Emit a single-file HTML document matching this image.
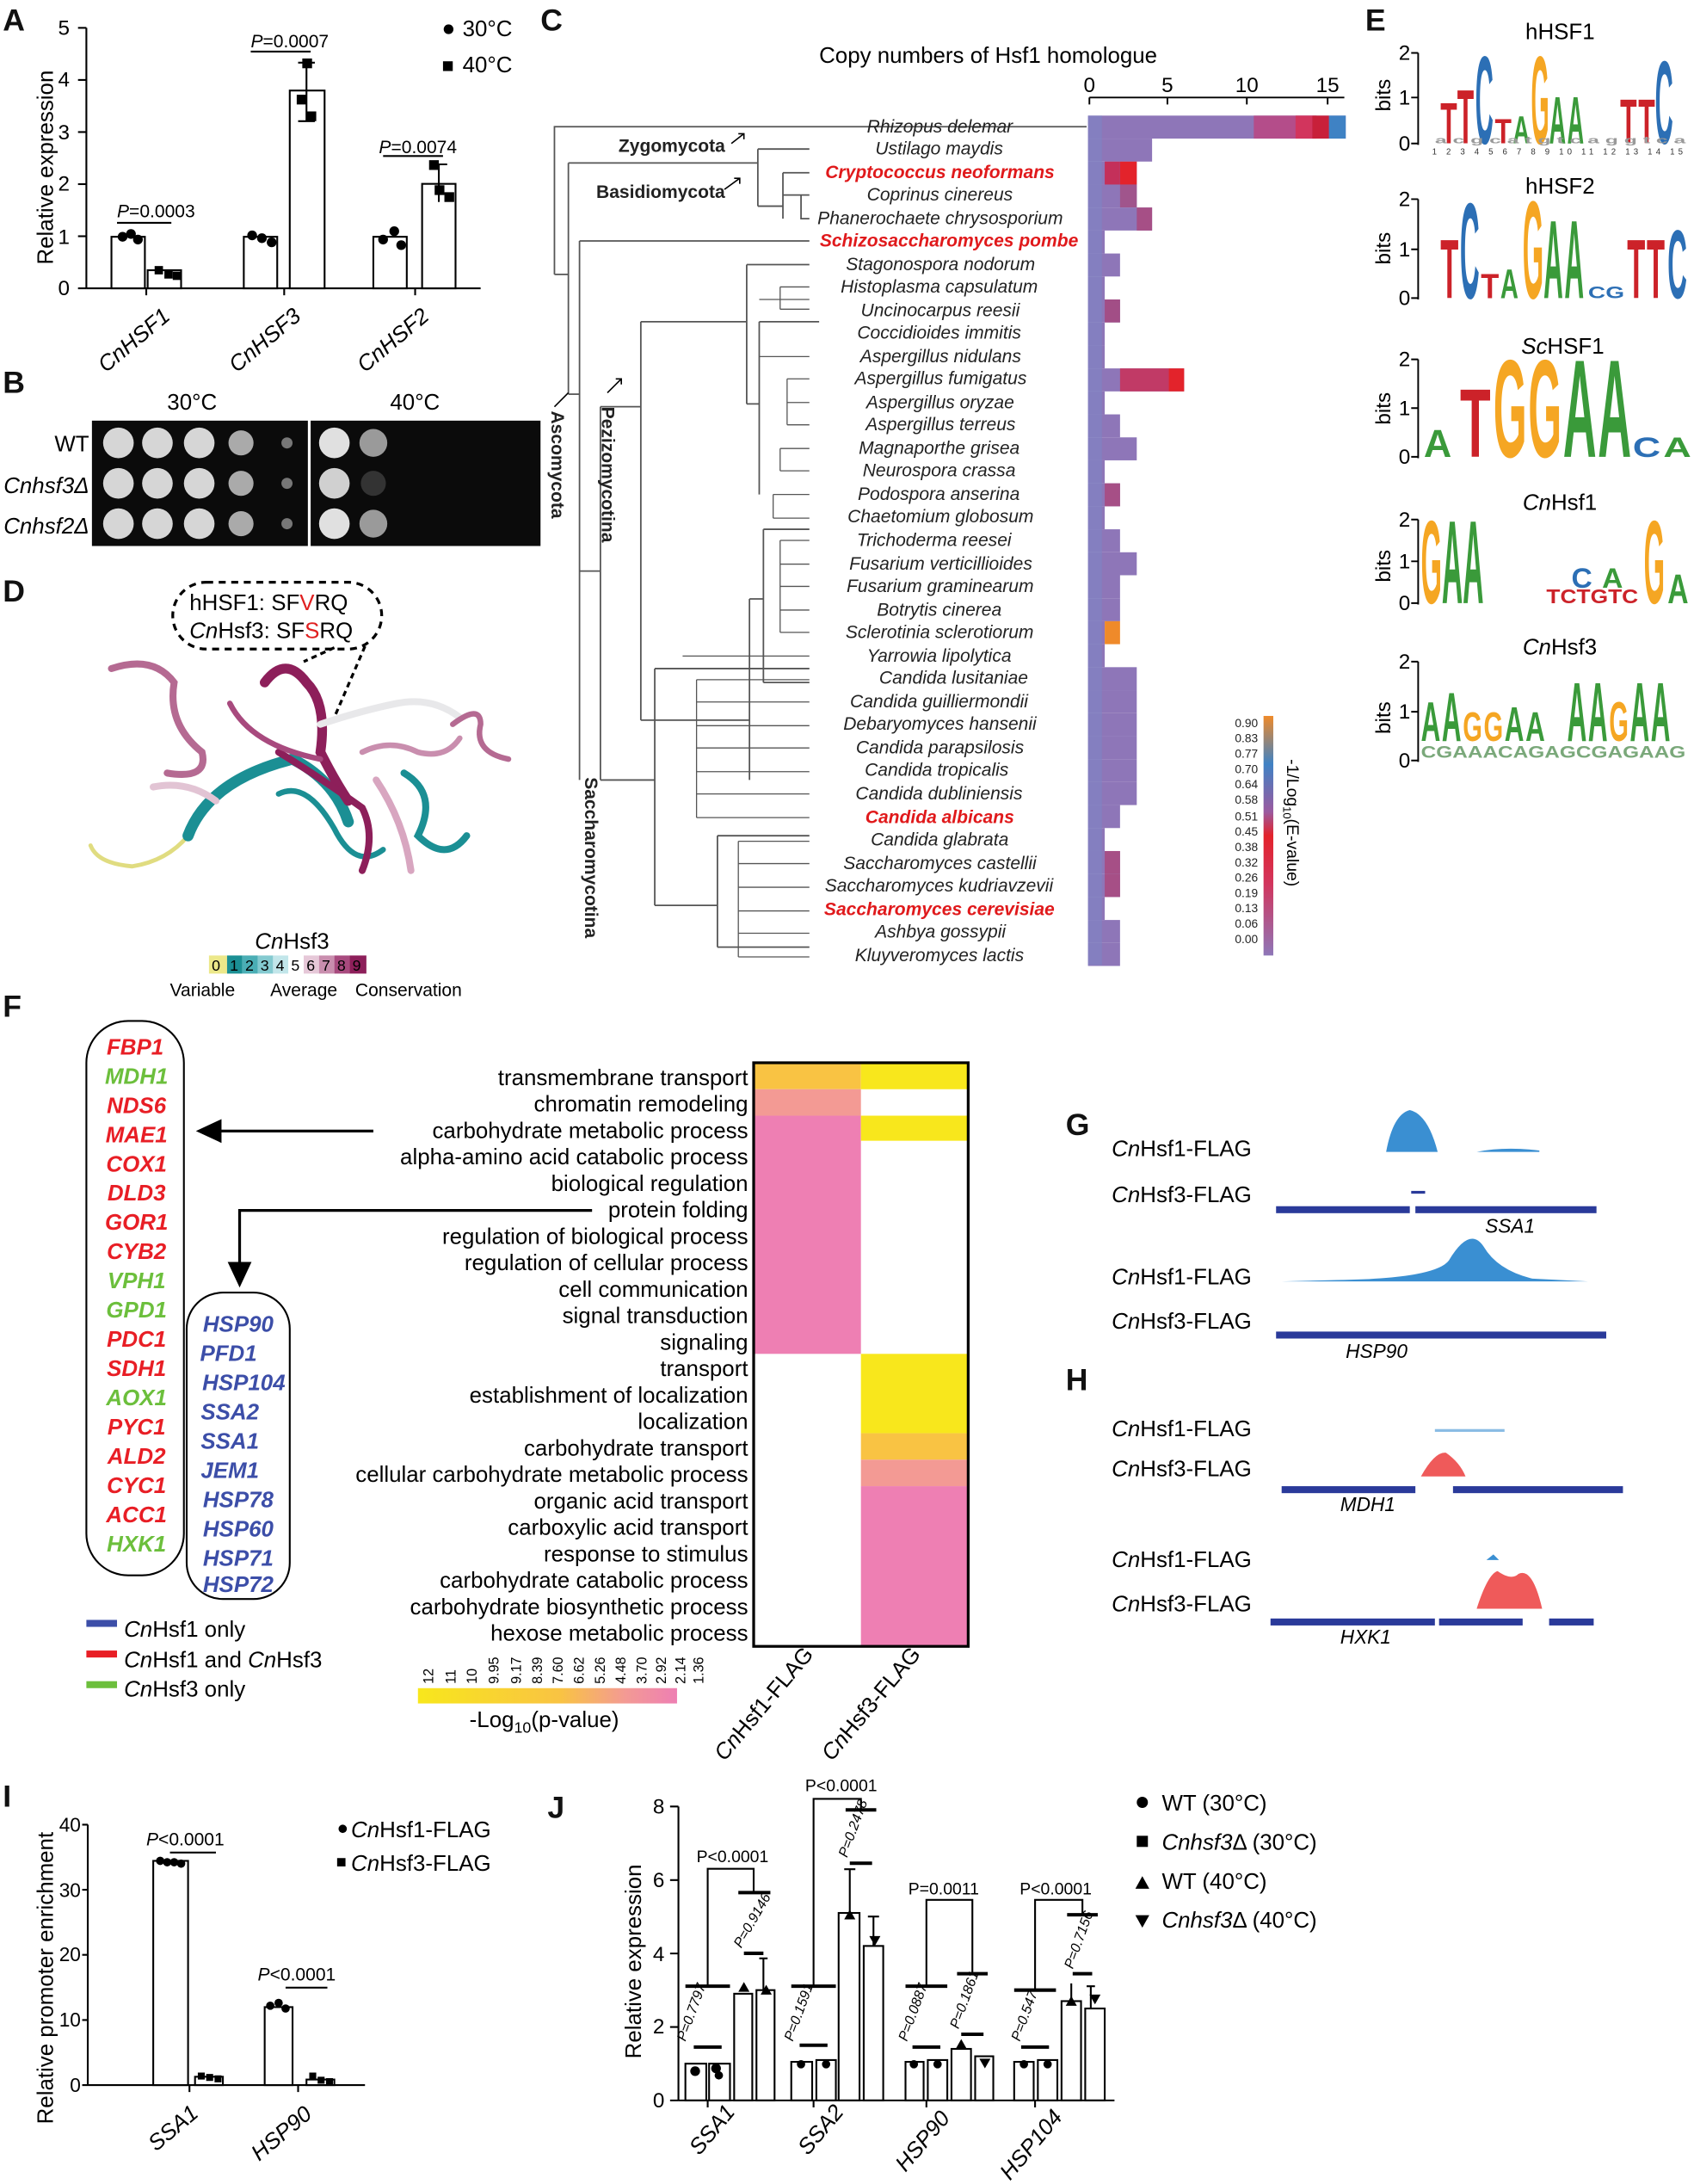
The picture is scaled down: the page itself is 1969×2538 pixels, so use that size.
<!DOCTYPE html>
<html><head><meta charset="utf-8"><style>
html,body{margin:0;padding:0;background:#fff}
svg{display:block}
text{font-family:"Liberation Sans",sans-serif}
</style></head><body>
<svg width="1969" height="2538" viewBox="0 0 1216 1568" preserveAspectRatio="none" xmlns="http://www.w3.org/2000/svg">
<rect width="1216" height="1568" fill="#fff"/>
<g font-weight="bold" font-size="22" fill="#111">
<text x="2" y="22">A</text><text x="2" y="282">B</text><text x="2" y="432">D</text>
<text x="388" y="22">C</text><text x="980" y="22">E</text><text x="2" y="730">F</text>
<text x="765" y="815">G</text><text x="765" y="998">H</text><text x="2" y="1297">I</text><text x="393" y="1305">J</text>
</g>

<!-- Panel A -->
<g stroke="#000" stroke-width="1.3" fill="none">
<line x1="62" y1="20" x2="62" y2="207"/><line x1="62" y1="207" x2="345" y2="207"/>
<line x1="56" y1="20" x2="62" y2="20"/><line x1="56" y1="57.4" x2="62" y2="57.4"/><line x1="56" y1="94.8" x2="62" y2="94.8"/><line x1="56" y1="132.2" x2="62" y2="132.2"/><line x1="56" y1="169.6" x2="62" y2="169.6"/><line x1="56" y1="207" x2="62" y2="207"/>
<rect x="80" y="170" width="24" height="37"/><rect x="106" y="194" width="24" height="13"/>
<rect x="175" y="170" width="24" height="37"/><rect x="208" y="65" width="25" height="142"/>
<rect x="268" y="170" width="24" height="37"/><rect x="303" y="132" width="24" height="75"/>
<line x1="84" y1="160" x2="123" y2="160"/>
<line x1="180" y1="37" x2="223" y2="37"/><line x1="275" y1="112" x2="318" y2="112"/>
<line x1="220" y1="45" x2="220" y2="87"/><line x1="214" y1="45" x2="226" y2="45"/><line x1="214" y1="87" x2="226" y2="87"/>
<line x1="315" y1="118" x2="315" y2="145"/><line x1="309" y1="118" x2="321" y2="118"/>
<line x1="105" y1="207" x2="105" y2="212"/><line x1="204" y1="207" x2="204" y2="212"/><line x1="298" y1="207" x2="298" y2="212"/>
</g>
<g fill="#000">
<circle cx="88" cy="170" r="3.5"/><circle cx="94" cy="168" r="3.5"/><circle cx="99" cy="172" r="3.5"/>
<rect x="111" y="191" width="6" height="6"/><rect x="118" y="194" width="6" height="6"/><rect x="124" y="195" width="6" height="6"/>
<circle cx="181" cy="169" r="3.5"/><circle cx="188" cy="171" r="3.5"/><circle cx="195" cy="174" r="3.5"/>
<rect x="217" y="42" width="7" height="7"/><rect x="213" y="68" width="7" height="7"/><rect x="220" y="80" width="7" height="7"/>
<circle cx="275" cy="172" r="3.5"/><circle cx="283" cy="166" r="3.5"/><circle cx="288" cy="176" r="3.5"/>
<rect x="308" y="115" width="7" height="7"/><rect x="312" y="133" width="7" height="7"/><rect x="319" y="138" width="7" height="7"/>
<text x="50" y="212" font-size="15" text-anchor="end">0</text><text x="50" y="175" font-size="15" text-anchor="end">1</text><text x="50" y="137" font-size="15" text-anchor="end">2</text><text x="50" y="100" font-size="15" text-anchor="end">3</text><text x="50" y="62" font-size="15" text-anchor="end">4</text><text x="50" y="25" font-size="15" text-anchor="end">5</text>
<text x="84" y="156" font-size="13"><tspan font-style="italic">P</tspan>=0.0003</text>
<text x="180" y="34" font-size="13"><tspan font-style="italic">P</tspan>=0.0007</text>
<text x="272" y="110" font-size="13"><tspan font-style="italic">P</tspan>=0.0074</text>
<text transform="translate(38,190) rotate(-90)" font-size="16">Relative expression</text>
<text transform="translate(76,268) rotate(-40)" font-size="16" font-style="italic">CnHSF1</text>
<text transform="translate(170,268) rotate(-40)" font-size="16" font-style="italic">CnHSF3</text>
<text transform="translate(262,268) rotate(-40)" font-size="16" font-style="italic">CnHSF2</text>
<circle cx="322" cy="21" r="3.5"/><text x="332" y="26" font-size="16">30°C</text>
<rect x="318" y="44" width="7" height="7"/><text x="332" y="52" font-size="16">40°C</text>
</g>

<!-- Panel B -->
<text x="120" y="294" font-size="16">30°C</text><text x="280" y="294" font-size="16">40°C</text>
<text x="64" y="324" font-size="16" text-anchor="end">WT</text>
<text x="64" y="354" font-size="16" text-anchor="end" font-style="italic">Cnhsf3Δ</text>
<text x="64" y="383" font-size="16" text-anchor="end" font-style="italic">Cnhsf2Δ</text>
<rect x="66" y="302" width="155" height="90" fill="#0b0b0b"/><rect x="223" y="302" width="165" height="90" fill="#0b0b0b"/>
<g fill="#d6d6d6">
<circle cx="85" cy="318" r="11"/><circle cx="113" cy="318" r="11"/><circle cx="143" cy="318" r="11"/><circle cx="173" cy="318" r="9" fill="#aaa"/><circle cx="206" cy="318" r="4" fill="#777"/>
<circle cx="85" cy="347" r="11"/><circle cx="113" cy="347" r="11"/><circle cx="143" cy="347" r="11"/><circle cx="173" cy="347" r="9" fill="#aaa"/><circle cx="206" cy="347" r="4" fill="#777"/>
<circle cx="85" cy="376" r="11"/><circle cx="113" cy="376" r="11"/><circle cx="143" cy="376" r="11"/><circle cx="173" cy="376" r="9" fill="#aaa"/><circle cx="206" cy="376" r="4" fill="#777"/>
<circle cx="240" cy="318" r="11" fill="#e0e0e0"/><circle cx="268" cy="318" r="10" fill="#9a9a9a"/>
<circle cx="240" cy="347" r="11" fill="#d0d0d0"/><circle cx="268" cy="347" r="9" fill="#333"/>
<circle cx="240" cy="376" r="11" fill="#e0e0e0"/><circle cx="268" cy="376" r="10" fill="#9a9a9a"/>
</g>

<!-- Panel D -->
<rect x="124" y="418" width="150" height="48" rx="24" fill="none" stroke="#000" stroke-width="2" stroke-dasharray="5,4"/>
<text x="136" y="438" font-size="16">hHSF1: SF<tspan fill="#e02020">V</tspan>RQ</text>
<text x="136" y="458" font-size="16"><tspan font-style="italic">Cn</tspan>Hsf3: SF<tspan fill="#e02020">S</tspan>RQ</text>
<path d="M240 465 L218 475 M262 464 L240 515" stroke="#000" stroke-width="2" stroke-dasharray="4,3"/>
<g fill="none" stroke-linecap="round">
<path d="M65 607 Q70 620 95 622 Q120 618 135 600" stroke="#e0dc80" stroke-width="3"/>
<path d="M135 600 Q150 560 210 545 Q240 560 250 590" stroke="#1b8f94" stroke-width="8"/>
<path d="M200 570 Q220 560 240 595 Q255 625 275 610" stroke="#1b8f94" stroke-width="4"/>
<path d="M190 490 Q205 470 220 490 Q235 505 230 540 Q240 560 250 575" stroke="#8d1f5a" stroke-width="7"/>
<path d="M200 540 Q225 555 260 580 Q270 600 260 625" stroke="#8d1f5a" stroke-width="5"/>
<path d="M230 520 Q260 510 285 505 Q310 500 330 515" stroke="#e8e8ea" stroke-width="5"/>
<path d="M325 520 Q345 505 345 520 Q340 540 365 545" stroke="#b56a92" stroke-width="4"/>
<path d="M290 555 Q315 570 300 600 Q320 620 335 600" stroke="#1b8f94" stroke-width="5"/>
<path d="M270 560 Q290 590 295 625" stroke="#d8a6c0" stroke-width="5"/>
<path d="M80 480 Q110 470 125 490 Q120 520 145 540 Q150 560 120 555" stroke="#b56a92" stroke-width="5"/>
<path d="M165 505 Q180 535 230 545" stroke="#a84a7e" stroke-width="4"/>
<path d="M110 565 Q135 560 155 575" stroke="#e2c4d4" stroke-width="5"/>
<path d="M260 540 Q280 530 300 540 Q320 545 330 530" stroke="#c98eae" stroke-width="4"/>
</g>
<text x="183" y="681" font-size="16"><tspan font-style="italic">Cn</tspan>Hsf3</text>
<g font-size="11">
<rect x="150" y="686" width="13" height="13" fill="#ece88a"/><rect x="163" y="686" width="11" height="13" fill="#1b8f94"/><rect x="174" y="686" width="11" height="13" fill="#4aaeb5"/><rect x="185" y="686" width="11" height="13" fill="#84cad0"/><rect x="196" y="686" width="11" height="13" fill="#c2e6ea"/><rect x="207" y="686" width="11" height="13" fill="#fff"/><rect x="218" y="686" width="11" height="13" fill="#e6c8d8"/><rect x="229" y="686" width="11" height="13" fill="#c98eae"/><rect x="240" y="686" width="11" height="13" fill="#a84a7e"/><rect x="251" y="686" width="12" height="13" fill="#8d1f5a"/>
<text x="152" y="697">0</text><text x="165" y="697">1</text><text x="176" y="697">2</text><text x="187" y="697">3</text><text x="198" y="697">4</text><text x="209" y="697">5</text><text x="220" y="697">6</text><text x="231" y="697">7</text><text x="242" y="697">8</text><text x="253" y="697">9</text>
<text x="122" y="715" font-size="13">Variable</text><text x="194" y="715" font-size="13">Average</text><text x="255" y="715" font-size="13">Conservation</text>
</g>

<!-- Panel C -->
<text x="588" y="45" font-size="16">Copy numbers of Hsf1 homologue</text>
<g stroke="#000" stroke-width="1.2"><line x1="782" y1="70" x2="965" y2="70"/><line x1="782" y1="70" x2="782" y2="75"/><line x1="838" y1="70" x2="838" y2="75"/><line x1="895" y1="70" x2="895" y2="75"/><line x1="953" y1="70" x2="953" y2="75"/></g>
<g font-size="15" text-anchor="middle"><text x="782" y="66">0</text><text x="838" y="66">5</text><text x="895" y="66">10</text><text x="953" y="66">15</text></g>
<g stroke="#555" stroke-width="1.1" fill="none">
<path d="M398 197 V91 H780"/>
<path d="M398 197 H408"/><path d="M408 117 V283"/><path d="M408 117 H544"/>
<path d="M544 107 V148 M544 107 H581 M544 148 H562 M562 124 V157 M562 124 H581 M562 140 H575 V157 H581 M575 140 H581"/>
<path d="M408 283 H416"/><path d="M416 173 V560"/><path d="M416 173 H581"/>
<path d="M416 410 H431 M431 292 V560"/>
<path d="M431 292 H460 M460 231 V517 M460 231 H536 M536 190 V290 M536 190 H581 M536 290 H545 M545 231 V355 M545 231 H588"/>
<path d="M460 517 H538 M538 430 V560 M538 430 H548 M548 380 V490 M548 380 H581 M548 490 H581"/>
<path d="M431 560 H470 M470 480 V650 M470 480 H581 M470 650 H515 M515 600 V680 M515 600 H581 M515 680 H581"/>
</g>
<g stroke="#555" stroke-width="0.8">
<path d="M545 215 H581 M545 256 H581 M560 206 V222 M560 206 H581 M560 222 H581 M565 272 V305 M565 272 H581 M565 305 H581 M565 289 H581"/>
<path d="M560 322 H581 M560 338 H581 M560 322 V338 M555 355 H581 M555 372 H581 M555 355 V372"/>
<path d="M560 388 H581 M560 405 H581 M560 421 H581 M560 438 H581 M560 454 H581 M560 388 V454"/>
<path d="M490 471 H581 M500 488 H581 M500 504 H581 M500 521 H581 M500 537 H581 M500 554 H581 M500 570 H581 M500 587 H581 M500 488 V587"/>
<path d="M530 604 H581 M530 620 H581 M530 637 H581 M530 654 H581 M530 670 H581 M530 687 H581 M530 604 V687"/>
</g>
<g font-size="13" font-weight="bold" fill="#222">
<text x="444" y="109">Zygomycota</text><text x="428" y="142">Basidiomycota</text>
<text transform="translate(396,295) rotate(90)">Ascomycota</text>
<text transform="translate(432,292) rotate(90)">Pezizomycotina</text>
<text transform="translate(420,558) rotate(90)">Saccharomycotina</text>
</g>
<g stroke="#000" stroke-width="1" fill="none"><path d="M525 103 L534 96 M530 96 H534 V100 M520 136 L531 128 M527 128 H531 V132 M436 282 L446 272 M442 272 H446 V276 M398 292 L408 282"/></g>
<g font-size="13" font-style="italic" text-anchor="end" fill="#222">
<text x="727" y="95">Rhizopus delemar</text><text x="720" y="111">Ustilago maydis</text>
<text x="757" y="128" fill="#e0191b" font-weight="bold">Cryptococcus neoformans</text><text x="727" y="144">Coprinus cinereus</text>
<text x="763" y="161">Phanerochaete chrysosporium</text><text x="774" y="177" fill="#e0191b" font-weight="bold">Schizosaccharomyces pombe</text>
<text x="743" y="194">Stagonospora nodorum</text><text x="745" y="210">Histoplasma capsulatum</text>
<text x="732" y="227">Uncinocarpus reesii</text><text x="733" y="243">Coccidioides immitis</text>
<text x="733" y="260">Aspergillus nidulans</text><text x="737" y="276">Aspergillus fumigatus</text>
<text x="728" y="293">Aspergillus oryzae</text><text x="729" y="309">Aspergillus terreus</text>
<text x="732" y="326">Magnaporthe grisea</text><text x="729" y="342">Neurospora crassa</text>
<text x="732" y="359">Podospora anserina</text><text x="742" y="375">Chaetomium globosum</text>
<text x="726" y="392">Trichoderma reesei</text><text x="741" y="409">Fusarium verticillioides</text>
<text x="742" y="425">Fusarium graminearum</text><text x="719" y="442">Botrytis cinerea</text>
<text x="742" y="458">Sclerotinia sclerotiorum</text><text x="726" y="475">Yarrowia lipolytica</text>
<text x="738" y="491">Candida lusitaniae</text><text x="738" y="508">Candida guilliermondii</text>
<text x="744" y="524">Debaryomyces hansenii</text><text x="735" y="541">Candida parapsilosis</text>
<text x="724" y="557">Candida tropicalis</text><text x="734" y="574">Candida dubliniensis</text>
<text x="728" y="591" fill="#e0191b" font-weight="bold">Candida albicans</text><text x="724" y="607">Candida glabrata</text>
<text x="744" y="624">Saccharomyces castellii</text><text x="756" y="640">Saccharomyces kudriavzevii</text>
<text x="757" y="657" fill="#e0191b" font-weight="bold">Saccharomyces cerevisiae</text><text x="722" y="673">Ashbya gossypii</text>
<text x="735" y="690">Kluyveromyces lactis</text>
</g>
<g>
<rect x="781" y="83" width="185" height="16.5" fill="#8e76b8"/><rect x="900" y="83" width="45" height="16.5" fill="#b44d8a"/><rect x="930" y="83" width="12" height="16.5" fill="#d2355d"/><rect x="942" y="83" width="12" height="16.5" fill="#c8203a"/><rect x="954" y="83" width="12" height="16.5" fill="#3f82c4"/>
<rect x="781" y="99.5" width="46" height="16.5" fill="#8e76b8"/>
<rect x="781" y="116" width="35" height="16.5" fill="#8e76b8"/><rect x="804" y="116" width="12" height="16.5" fill="#e3232b"/><rect x="793" y="116" width="11" height="16.5" fill="#c4305a"/>
<rect x="781" y="132.5" width="35" height="16.5" fill="#8e76b8"/><rect x="804" y="132.5" width="12" height="16.5" fill="#a0558c"/>
<rect x="781" y="149" width="46" height="16.5" fill="#8e76b8"/><rect x="816" y="149" width="11" height="16.5" fill="#a64f86"/>
<rect x="781" y="165.5" width="12" height="16.5" fill="#8e76b8"/>
<rect x="781" y="182" width="23" height="16.5" fill="#8e76b8"/>
<rect x="781" y="198.5" width="12" height="16.5" fill="#8e76b8"/>
<rect x="781" y="215" width="23" height="16.5" fill="#8e76b8"/><rect x="793" y="215" width="11" height="16.5" fill="#a24e86"/>
<rect x="781" y="231.5" width="12" height="16.5" fill="#8e76b8"/>
<rect x="781" y="248" width="12" height="16.5" fill="#8e76b8"/>
<rect x="781" y="264.5" width="69" height="16.5" fill="#8e76b8"/><rect x="804" y="264.5" width="35" height="16.5" fill="#c13a66"/><rect x="839" y="264.5" width="11" height="16.5" fill="#e3232b"/>
<rect x="781" y="281" width="12" height="16.5" fill="#8e76b8"/>
<rect x="781" y="297.5" width="23" height="16.5" fill="#8e76b8"/>
<rect x="781" y="314" width="35" height="16.5" fill="#8e76b8"/>
<rect x="781" y="330.5" width="12" height="16.5" fill="#8e76b8"/>
<rect x="781" y="347" width="23" height="16.5" fill="#8e76b8"/><rect x="793" y="347" width="11" height="16.5" fill="#a64f86"/>
<rect x="781" y="363.5" width="12" height="16.5" fill="#8e76b8"/>
<rect x="781" y="380" width="23" height="16.5" fill="#8e76b8"/>
<rect x="781" y="396.5" width="35" height="16.5" fill="#8e76b8"/>
<rect x="781" y="413" width="23" height="16.5" fill="#8e76b8"/>
<rect x="781" y="429.5" width="23" height="16.5" fill="#8e76b8"/>
<rect x="781" y="446" width="12" height="16.5" fill="#8e76b8"/><rect x="793" y="446" width="11" height="16.5" fill="#ef8a2a"/>
<rect x="781" y="462.5" width="12" height="16.5" fill="#8e76b8"/>
<rect x="781" y="479" width="35" height="16.5" fill="#8e76b8"/>
<rect x="781" y="495.5" width="35" height="16.5" fill="#8e76b8"/>
<rect x="781" y="512" width="35" height="16.5" fill="#8e76b8"/>
<rect x="781" y="528.5" width="35" height="16.5" fill="#8e76b8"/>
<rect x="781" y="545" width="35" height="16.5" fill="#8e76b8"/>
<rect x="781" y="561.5" width="35" height="16.5" fill="#8e76b8"/>
<rect x="781" y="578" width="23" height="16.5" fill="#8e76b8"/>
<rect x="781" y="594.5" width="12" height="16.5" fill="#8e76b8"/>
<rect x="781" y="611" width="23" height="16.5" fill="#8e76b8"/><rect x="793" y="611" width="11" height="16.5" fill="#a64f86"/>
<rect x="781" y="627.5" width="23" height="16.5" fill="#8e76b8"/><rect x="793" y="627.5" width="11" height="16.5" fill="#a64f86"/>
<rect x="781" y="644" width="12" height="16.5" fill="#8e76b8"/>
<rect x="781" y="660.5" width="23" height="16.5" fill="#8e76b8"/>
<rect x="781" y="677" width="23" height="16.5" fill="#8e76b8"/>
<rect x="781" y="83" width="10" height="610" fill="#7d86c4" opacity="0.6"/>
</g>
<defs><linearGradient id="cb" x1="0" y1="1" x2="0" y2="0">
<stop offset="0" stop-color="#8e76b8"/><stop offset="0.3" stop-color="#d2355d"/><stop offset="0.5" stop-color="#e3232b"/><stop offset="0.6" stop-color="#9a5aa0"/><stop offset="0.8" stop-color="#3f82c4"/><stop offset="1" stop-color="#ef8a2a"/></linearGradient></defs>
<rect x="907" y="514" width="7" height="172" fill="url(#cb)"/>
<g font-size="8.5" text-anchor="end" fill="#222">
<text x="903" y="522">0.90</text><text x="903" y="533">0.83</text><text x="903" y="544">0.77</text><text x="903" y="555">0.70</text><text x="903" y="566">0.64</text><text x="903" y="577">0.58</text><text x="903" y="589">0.51</text><text x="903" y="600">0.45</text><text x="903" y="611">0.38</text><text x="903" y="622">0.32</text><text x="903" y="633">0.26</text><text x="903" y="644">0.19</text><text x="903" y="655">0.13</text><text x="903" y="666">0.06</text><text x="903" y="677">0.00</text>
</g>
<text transform="translate(924,545) rotate(90)" font-size="12">-1/Log<tspan font-size="8" dy="3">10</tspan><tspan dy="-3">(E-value)</tspan></text>

<!-- Panel E -->
<g font-size="12" fill="#000">
<text x="1095" y="28" font-size="16">hHSF1</text><text x="1095" y="139" font-size="16">hHSF2</text>
<text x="1092" y="254" font-size="16"><tspan font-style="italic">Sc</tspan>HSF1</text>
<text x="1093" y="366" font-size="16"><tspan font-style="italic">Cn</tspan>Hsf1</text>
<text x="1093" y="470" font-size="16"><tspan font-style="italic">Cn</tspan>Hsf3</text>
</g>
<g stroke="#000" stroke-width="1.2">
<path d="M1018 38 V104 M1013 38 H1018 M1013 70 H1018 M1013 103 H1018"/>
<path d="M1018 143 V215 M1013 143 H1018 M1013 179 H1018 M1013 214 H1018"/>
<path d="M1018 258 V329 M1013 258 H1018 M1013 293 H1018 M1013 328 H1018"/>
<path d="M1018 373 V434 M1013 373 H1018 M1013 403 H1018 M1013 433 H1018"/>
<path d="M1018 475 V547 M1013 475 H1018 M1013 511 H1018 M1013 546 H1018"/>
</g>
<g font-size="15">
<text x="1004" y="43">2</text><text x="1004" y="75">1</text><text x="1004" y="108">0</text>
<text x="1004" y="148">2</text><text x="1004" y="184">1</text><text x="1004" y="219">0</text>
<text x="1004" y="263">2</text><text x="1004" y="298">1</text><text x="1004" y="333">0</text>
<text x="1004" y="378">2</text><text x="1004" y="408">1</text><text x="1004" y="438">0</text>
<text x="1004" y="480">2</text><text x="1004" y="516">1</text><text x="1004" y="551">0</text>
<text transform="translate(998,80) rotate(-90)">bits</text><text transform="translate(998,190) rotate(-90)">bits</text>
<text transform="translate(998,305) rotate(-90)">bits</text><text transform="translate(998,418) rotate(-90)">bits</text>
<text transform="translate(998,527) rotate(-90)">bits</text>
</g>
<g font-weight="bold">
<text x="1034" y="103" font-size="42" textLength="12" lengthAdjust="spacingAndGlyphs" fill="#cc2229">T</text>
<text x="1046" y="103" font-size="55" textLength="12" lengthAdjust="spacingAndGlyphs" fill="#cc2229">T</text>
<text x="1059" y="103" font-size="90" textLength="13" lengthAdjust="spacingAndGlyphs" fill="#2c6fb5">C</text>
<text x="1073" y="103" font-size="25" textLength="12" lengthAdjust="spacingAndGlyphs" fill="#cc2229">T</text>
<text x="1086" y="103" font-size="28" textLength="12" lengthAdjust="spacingAndGlyphs" fill="#3a9a3a">A</text>
<text x="1099" y="103" font-size="90" textLength="13" lengthAdjust="spacingAndGlyphs" fill="#f5a623">G</text>
<text x="1112" y="103" font-size="48" textLength="12" lengthAdjust="spacingAndGlyphs" fill="#3a9a3a">A</text>
<text x="1125" y="103" font-size="48" textLength="12" lengthAdjust="spacingAndGlyphs" fill="#3a9a3a">A</text>
<text x="1163" y="103" font-size="45" textLength="12" lengthAdjust="spacingAndGlyphs" fill="#cc2229">T</text>
<text x="1176" y="103" font-size="45" textLength="12" lengthAdjust="spacingAndGlyphs" fill="#cc2229">T</text>
<text x="1188" y="103" font-size="85" textLength="13" lengthAdjust="spacingAndGlyphs" fill="#2c6fb5">C</text>
<text x="1030" y="103" font-size="7" textLength="180" lengthAdjust="spacingAndGlyphs" fill="#999">a c g c a t g t c a g g t c a</text>
<text x="1034" y="214" font-size="60" textLength="13" lengthAdjust="spacingAndGlyphs" fill="#cc2229">T</text>
<text x="1048" y="214" font-size="98" textLength="14" lengthAdjust="spacingAndGlyphs" fill="#2c6fb5">C</text>
<text x="1063" y="214" font-size="25" textLength="13" lengthAdjust="spacingAndGlyphs" fill="#cc2229">T</text>
<text x="1077" y="214" font-size="30" textLength="13" lengthAdjust="spacingAndGlyphs" fill="#3a9a3a">A</text>
<text x="1093" y="214" font-size="100" textLength="15" lengthAdjust="spacingAndGlyphs" fill="#f5a623">G</text>
<text x="1108" y="214" font-size="80" textLength="14" lengthAdjust="spacingAndGlyphs" fill="#3a9a3a">A</text>
<text x="1123" y="214" font-size="80" textLength="14" lengthAdjust="spacingAndGlyphs" fill="#3a9a3a">A</text>
<text x="1140" y="214" font-size="12" textLength="26" lengthAdjust="spacingAndGlyphs" fill="#2c6fb5">CG</text>
<text x="1168" y="214" font-size="60" textLength="13" lengthAdjust="spacingAndGlyphs" fill="#cc2229">T</text>
<text x="1182" y="214" font-size="60" textLength="13" lengthAdjust="spacingAndGlyphs" fill="#cc2229">T</text>
<text x="1197" y="214" font-size="70" textLength="14" lengthAdjust="spacingAndGlyphs" fill="#2c6fb5">C</text>
<text x="1022" y="328" font-size="28" textLength="20" lengthAdjust="spacingAndGlyphs" fill="#3a9a3a">A</text>
<text x="1048" y="328" font-size="70" textLength="22" lengthAdjust="spacingAndGlyphs" fill="#cc2229">T</text>
<text x="1072" y="328" font-size="100" textLength="24" lengthAdjust="spacingAndGlyphs" fill="#f5a623">G</text>
<text x="1097" y="328" font-size="100" textLength="24" lengthAdjust="spacingAndGlyphs" fill="#f5a623">G</text>
<text x="1122" y="328" font-size="100" textLength="24" lengthAdjust="spacingAndGlyphs" fill="#3a9a3a">A</text>
<text x="1147" y="328" font-size="100" textLength="24" lengthAdjust="spacingAndGlyphs" fill="#3a9a3a">A</text>
<text x="1172" y="328" font-size="20" textLength="20" lengthAdjust="spacingAndGlyphs" fill="#2c6fb5">C</text>
<text x="1194" y="328" font-size="20" textLength="20" lengthAdjust="spacingAndGlyphs" fill="#3a9a3a">A</text>
<text x="1020" y="433" font-size="85" textLength="15" lengthAdjust="spacingAndGlyphs" fill="#f5a623">G</text>
<text x="1035" y="433" font-size="85" textLength="15" lengthAdjust="spacingAndGlyphs" fill="#3a9a3a">A</text>
<text x="1050" y="433" font-size="85" textLength="15" lengthAdjust="spacingAndGlyphs" fill="#3a9a3a">A</text>
<text x="1110" y="433" font-size="14" textLength="66" lengthAdjust="spacingAndGlyphs" fill="#cc2229">TCTGTC</text>
<text x="1128" y="422" font-size="20" textLength="15" lengthAdjust="spacingAndGlyphs" fill="#2c6fb5">C</text>
<text x="1150" y="422" font-size="20" textLength="15" lengthAdjust="spacingAndGlyphs" fill="#3a9a3a">A</text>
<text x="1180" y="433" font-size="85" textLength="15" lengthAdjust="spacingAndGlyphs" fill="#f5a623">G</text>
<text x="1197" y="433" font-size="30" textLength="15" lengthAdjust="spacingAndGlyphs" fill="#3a9a3a">A</text>
<text x="1020" y="532" font-size="40" textLength="14" lengthAdjust="spacingAndGlyphs" fill="#3a9a3a">A</text>
<text x="1035" y="532" font-size="50" textLength="14" lengthAdjust="spacingAndGlyphs" fill="#3a9a3a">A</text>
<text x="1050" y="532" font-size="30" textLength="14" lengthAdjust="spacingAndGlyphs" fill="#f5a623">G</text>
<text x="1065" y="532" font-size="30" textLength="14" lengthAdjust="spacingAndGlyphs" fill="#f5a623">G</text>
<text x="1080" y="532" font-size="35" textLength="14" lengthAdjust="spacingAndGlyphs" fill="#3a9a3a">A</text>
<text x="1095" y="532" font-size="30" textLength="14" lengthAdjust="spacingAndGlyphs" fill="#3a9a3a">A</text>
<text x="1125" y="532" font-size="60" textLength="14" lengthAdjust="spacingAndGlyphs" fill="#3a9a3a">A</text>
<text x="1140" y="532" font-size="60" textLength="14" lengthAdjust="spacingAndGlyphs" fill="#3a9a3a">A</text>
<text x="1155" y="532" font-size="40" textLength="14" lengthAdjust="spacingAndGlyphs" fill="#f5a623">G</text>
<text x="1170" y="532" font-size="60" textLength="14" lengthAdjust="spacingAndGlyphs" fill="#3a9a3a">A</text>
<text x="1185" y="532" font-size="60" textLength="14" lengthAdjust="spacingAndGlyphs" fill="#3a9a3a">A</text>
<text x="1020" y="544" font-size="12" textLength="190" lengthAdjust="spacingAndGlyphs" fill="#7aa87a">CGAAACAGAGCGAGAAG</text>
</g>
<g font-size="6" fill="#333"><text x="1028" y="111" textLength="180" lengthAdjust="spacing">1 2 3 4 5 6 7 8 9 10 11 12 13 14 15</text></g>

<!-- Panel F -->
<rect x="62" y="733" width="70" height="398" rx="30" fill="none" stroke="#000" stroke-width="1.3"/>
<rect x="134" y="928" width="74" height="220" rx="26" fill="none" stroke="#000" stroke-width="1.3"/>
<g font-size="16" font-weight="bold" font-style="italic" text-anchor="middle">
<text x="97" y="757" fill="#e81e25">FBP1</text><text x="98" y="778" fill="#6cbf3c">MDH1</text><text x="98" y="799" fill="#e81e25">NDS6</text><text x="98" y="820" fill="#e81e25">MAE1</text><text x="98" y="841" fill="#e81e25">COX1</text><text x="98" y="862" fill="#e81e25">DLD3</text><text x="98" y="883" fill="#e81e25">GOR1</text><text x="98" y="904" fill="#e81e25">CYB2</text><text x="98" y="925" fill="#6cbf3c">VPH1</text><text x="98" y="946" fill="#6cbf3c">GPD1</text><text x="98" y="967" fill="#e81e25">PDC1</text><text x="98" y="988" fill="#e81e25">SDH1</text><text x="98" y="1009" fill="#6cbf3c">AOX1</text><text x="98" y="1030" fill="#e81e25">PYC1</text><text x="98" y="1051" fill="#e81e25">ALD2</text><text x="98" y="1072" fill="#e81e25">CYC1</text><text x="98" y="1093" fill="#e81e25">ACC1</text><text x="98" y="1114" fill="#6cbf3c">HXK1</text>
<g fill="#3c4ea8"><text x="171" y="956">HSP90</text><text x="164" y="977">PFD1</text><text x="175" y="998">HSP104</text><text x="165" y="1019">SSA2</text><text x="165" y="1040">SSA1</text><text x="165" y="1061">JEM1</text><text x="171" y="1082">HSP78</text><text x="171" y="1103">HSP60</text><text x="171" y="1124">HSP71</text><text x="171" y="1143">HSP72</text></g>
</g>
<g stroke="#000" stroke-width="2" fill="none">
<path d="M268 812 H150"/><path d="M143 812 L158 805 L158 819 Z" fill="#000"/>
<path d="M425 869 H172 V912"/><path d="M172 922 L165 907 L179 907 Z" fill="#000"/>
</g>
<rect x="62" y="1163" width="22" height="5" fill="#3c4ea8"/><text x="89" y="1175" font-size="16"><tspan font-style="italic">Cn</tspan>Hsf1 only</text>
<rect x="62" y="1185" width="22" height="5" fill="#e81e25"/><text x="89" y="1197" font-size="16"><tspan font-style="italic">Cn</tspan>Hsf1 and <tspan font-style="italic">Cn</tspan>Hsf3</text>
<rect x="62" y="1207" width="22" height="5" fill="#6cbf3c"/><text x="89" y="1218" font-size="16"><tspan font-style="italic">Cn</tspan>Hsf3 only</text>
<g font-size="16" text-anchor="end">
<text x="537" y="779">transmembrane transport</text><text x="537" y="798">chromatin remodeling</text><text x="537" y="817">carbohydrate metabolic process</text><text x="537" y="836">alpha-amino acid catabolic process</text><text x="537" y="855">biological regulation</text><text x="537" y="874">protein folding</text><text x="537" y="893">regulation of biological process</text><text x="537" y="912">regulation of cellular process</text><text x="537" y="931">cell communication</text><text x="537" y="950">signal transduction</text><text x="537" y="969">signaling</text><text x="537" y="988">transport</text><text x="537" y="1007">establishment of localization</text><text x="537" y="1026">localization</text><text x="537" y="1045">carbohydrate transport</text><text x="537" y="1064">cellular carbohydrate metabolic process</text><text x="537" y="1083">organic acid transport</text><text x="537" y="1102">carboxylic acid transport</text><text x="537" y="1121">response to stimulus</text><text x="537" y="1140">carbohydrate catabolic process</text><text x="537" y="1159">carbohydrate biosynthetic process</text><text x="537" y="1178">hexose metabolic process</text>
</g>
<rect x="541" y="763" width="77" height="19" fill="#f9c343"/>
<rect x="541" y="782" width="77" height="19" fill="#f39a94"/>
<rect x="541" y="801" width="77" height="171" fill="#ee7fb3"/>
<rect x="618" y="763" width="77" height="19" fill="#f8e71c"/>
<rect x="618" y="801" width="77" height="18" fill="#f8e71c"/>
<rect x="618" y="972" width="77" height="57" fill="#f8e71c"/>
<rect x="618" y="1029" width="77" height="19" fill="#f9c343"/>
<rect x="618" y="1048" width="77" height="19" fill="#f39a94"/>
<rect x="618" y="1067" width="77" height="115" fill="#ee7fb3"/>
<rect x="541" y="763" width="154" height="419" fill="none" stroke="#000" stroke-width="2"/>
<defs><linearGradient id="fg" x1="0" x2="1"><stop offset="0" stop-color="#f8e71c"/><stop offset="0.55" stop-color="#f9c343"/><stop offset="0.8" stop-color="#f39a94"/><stop offset="1" stop-color="#ee7fb3"/></linearGradient></defs>
<rect x="300" y="1212" width="186" height="11" fill="url(#fg)"/>
<g font-size="10">
<text transform="translate(311,1209) rotate(-90)">12</text><text transform="translate(327,1209) rotate(-90)">11</text><text transform="translate(342,1209) rotate(-90)">10</text><text transform="translate(358,1209) rotate(-90)">9.95</text><text transform="translate(374,1209) rotate(-90)">9.17</text><text transform="translate(389,1209) rotate(-90)">8.39</text><text transform="translate(404,1209) rotate(-90)">7.60</text><text transform="translate(419,1209) rotate(-90)">6.62</text><text transform="translate(434,1209) rotate(-90)">5.26</text><text transform="translate(449,1209) rotate(-90)">4.48</text><text transform="translate(464,1209) rotate(-90)">3.70</text><text transform="translate(478,1209) rotate(-90)">2.92</text><text transform="translate(492,1209) rotate(-90)">2.14</text><text transform="translate(505,1209) rotate(-90)">1.36</text>
</g>
<text x="337" y="1240" font-size="16">-Log<tspan font-size="11" dy="4">10</tspan><tspan dy="-4">(p-value)</tspan></text>
<text transform="translate(520,1265) rotate(-50)" font-size="16"><tspan font-style="italic">Cn</tspan>Hsf1-FLAG</text>
<text transform="translate(597,1265) rotate(-50)" font-size="16"><tspan font-style="italic">Cn</tspan>Hsf3-FLAG</text>

<!-- Panel G/H -->
<g font-size="16">
<text x="798" y="830"><tspan font-style="italic">Cn</tspan>Hsf1-FLAG</text><text x="798" y="863"><tspan font-style="italic">Cn</tspan>Hsf3-FLAG</text>
<text x="798" y="922"><tspan font-style="italic">Cn</tspan>Hsf1-FLAG</text><text x="798" y="954"><tspan font-style="italic">Cn</tspan>Hsf3-FLAG</text>
<text x="798" y="1031"><tspan font-style="italic">Cn</tspan>Hsf1-FLAG</text><text x="798" y="1060"><tspan font-style="italic">Cn</tspan>Hsf3-FLAG</text>
<text x="798" y="1125"><tspan font-style="italic">Cn</tspan>Hsf1-FLAG</text><text x="798" y="1157"><tspan font-style="italic">Cn</tspan>Hsf3-FLAG</text>
</g>
<g font-size="14" font-style="italic"><text x="1066" y="885">SSA1</text><text x="966" y="975">HSP90</text><text x="962" y="1085">MDH1</text><text x="962" y="1180">HXK1</text></g>
<path d="M995 827 Q1000 800 1012 797 Q1025 800 1032 827 Z M1060 827 Q1080 823 1105 826 L1105 827 Z" fill="#3a8fd2"/>
<path d="M920 920 L960 919 Q1030 918 1040 905 Q1055 880 1065 895 Q1075 912 1100 918 L1140 920 Z" fill="#3a8fd2"/>
<path d="M1020 1060 Q1030 1042 1038 1043 Q1048 1050 1052 1060 Z" fill="#ef5a5a"/>
<path d="M1060 1155 Q1068 1130 1075 1128 Q1085 1135 1090 1130 Q1100 1125 1107 1155 Z" fill="#ef5a5a"/>
<path d="M1067 1120 L1072 1116 L1076 1120 Z" fill="#3a8fd2"/>
<g fill="#2a3a9a">
<rect x="916" y="866" width="96" height="5"/><rect x="1016" y="866" width="130" height="5"/><rect x="1013" y="855" width="10" height="2"/>
<rect x="916" y="956" width="237" height="5"/>
<rect x="920" y="1067" width="96" height="5"/><rect x="1043" y="1067" width="122" height="5"/>
<rect x="912" y="1162" width="118" height="5"/><rect x="1033" y="1162" width="60" height="5"/><rect x="1112" y="1162" width="32" height="5"/>
</g>
<g fill="#3a8fd2" opacity="0.6"><rect x="1030" y="1026" width="50" height="2"/></g>

<!-- Panel I -->
<g stroke="#000" stroke-width="1.3" fill="none">
<line x1="63" y1="1310" x2="63" y2="1497"/><line x1="63" y1="1497" x2="262" y2="1497"/>
<path d="M59 1310H63 M59 1356.75H63 M59 1403.5H63 M59 1450.25H63 M59 1497H63"/>
<rect x="110" y="1336" width="25" height="161"/><rect x="140" y="1491" width="20" height="6"/>
<rect x="190" y="1441" width="20" height="56"/><rect x="220" y="1493" width="20" height="4"/>
<path d="M122 1330H155 M205 1427H235 M136 1497V1502 M214 1497V1502"/>
</g>
<g fill="#000">
<circle cx="115" cy="1336" r="3"/><circle cx="120" cy="1337" r="3"/><circle cx="125" cy="1337" r="3"/><circle cx="130" cy="1338" r="3"/>
<rect x="142" y="1488" width="5" height="5"/><rect x="148" y="1489" width="5" height="5"/><rect x="154" y="1490" width="5" height="5"/>
<circle cx="194" cy="1440" r="3"/><circle cx="200" cy="1438" r="3"/><circle cx="205" cy="1442" r="3"/>
<rect x="222" y="1488" width="5" height="5"/><rect x="228" y="1491" width="5" height="5"/><rect x="234" y="1492" width="5" height="5"/>
<g font-size="14" text-anchor="end"><text x="58" y="1315">40</text><text x="58" y="1362">30</text><text x="58" y="1408">20</text><text x="58" y="1455">10</text><text x="58" y="1502">0</text></g>
<text x="105" y="1325" font-size="13"><tspan font-style="italic">P</tspan>&lt;0.0001</text>
<text x="185" y="1422" font-size="13"><tspan font-style="italic">P</tspan>&lt;0.0001</text>
<text transform="translate(38,1525) rotate(-90)" font-size="16">Relative promoter enrichment</text>
<text transform="translate(112,1545) rotate(-40)" font-size="16" font-style="italic">SSA1</text>
<text transform="translate(186,1552) rotate(-40)" font-size="16" font-style="italic">HSP90</text>
<circle cx="246" cy="1313" r="3"/><text x="252" y="1319" font-size="16"><tspan font-style="italic">Cn</tspan>Hsf1-FLAG</text>
<rect x="242" y="1334" width="6" height="6"/><text x="252" y="1343" font-size="16"><tspan font-style="italic">Cn</tspan>Hsf3-FLAG</text>
</g>

<!-- Panel J -->
<g stroke="#000" stroke-width="1.3" fill="none">
<line x1="487" y1="1297" x2="487" y2="1508"/><line x1="487" y1="1508" x2="800" y2="1508"/>
<path d="M481 1297H487 M481 1349.8H487 M481 1402.5H487 M481 1455.3H487 M481 1508H487"/>
<path d="M508 1508V1513 M584 1508V1513 M665 1508V1513 M743 1508V1513"/>
<rect x="492" y="1481.6" width="15" height="26.4"/><rect x="509" y="1481.6" width="15" height="26.4"/><rect x="527" y="1431.4" width="13" height="76.6"/><rect x="543" y="1428.8" width="13" height="79.2"/>
<rect x="568" y="1480.3" width="15" height="27.7"/><rect x="586" y="1479" width="14" height="29"/><rect x="602" y="1373.4" width="15" height="134.6"/><rect x="620" y="1397.1" width="14" height="110.9"/>
<rect x="650" y="1480.3" width="13" height="27.7"/><rect x="666" y="1479" width="14" height="29"/><rect x="683" y="1471" width="14" height="37"/><rect x="700" y="1476.3" width="13" height="31.7"/>
<rect x="728" y="1480.3" width="14" height="27.7"/><rect x="745" y="1479" width="14" height="29"/><rect x="762" y="1436.7" width="14" height="71.3"/><rect x="779" y="1442" width="14" height="66"/>
<path d="M610 1373V1342 M606 1342H614 M627 1397V1376 M623 1376H631 M548 1429V1406 M545 1406H551 M769 1437V1424 M783 1442V1426 M780 1426H786"/>
</g>
<g stroke="#000" stroke-width="1.3" fill="none">
<path d="M508 1426V1341.7H541V1358.8"/><path d="M584 1426V1291.5H618V1299.4"/><path d="M665 1426V1364H698V1417"/><path d="M743 1428.8V1364H777V1374.7"/>
</g>
<g stroke="#000" stroke-width="2.5" fill="none">
<path d="M498 1469.7H518 M492 1426H524 M530 1358.8H553 M534 1402.4H548"/>
<path d="M574 1468.4H594 M568 1426H600 M607 1299.4H629 M610 1337.7H626"/>
<path d="M655 1469.7H675 M650 1426H680 M687 1417H709 M690 1460.5H706"/>
<path d="M733 1469.7H753 M728 1428.8H758 M766 1374.7H788 M770 1417H784"/>
</g>
<g fill="#000">
<g font-size="15" text-anchor="end"><text x="477" y="1302">8</text><text x="477" y="1355">6</text><text x="477" y="1408">4</text><text x="477" y="1460">2</text><text x="477" y="1513">0</text></g>
<text transform="translate(460,1478) rotate(-90)" font-size="16">Relative expression</text>
<circle cx="499" cy="1487" r="3.5"/><circle cx="514" cy="1485" r="3.5"/><circle cx="516" cy="1490" r="3"/><path d="M530 1430l4-7 4 7z M546 1432l4-7 4 7z"/>
<circle cx="575" cy="1482" r="3"/><circle cx="593" cy="1482" r="3"/><path d="M606 1378l4-7 4 7z M624 1390l4 7 4-7z"/>
<circle cx="656" cy="1482" r="3"/><circle cx="673" cy="1482" r="3"/><path d="M686 1471l4-7 4 7z M703 1478l4 7 4-7z"/>
<circle cx="735" cy="1482" r="3"/><circle cx="752" cy="1482" r="3"/><path d="M765 1440l4-7 4 7z M782 1432l4 7 4-7z"/>
<g font-size="12">
<text x="500" y="1337">P&lt;0.0001</text><text x="578" y="1286">P&lt;0.0001</text><text x="652" y="1360">P=0.0011</text><text x="732" y="1360">P&lt;0.0001</text>
</g>
<g font-size="10" font-style="italic">
<text transform="translate(492,1466) rotate(-70)">P=0.7797</text>
<text transform="translate(532,1399) rotate(-60)">P=0.9146</text>
<text transform="translate(569,1466) rotate(-70)">P=0.1591</text>
<text transform="translate(608,1334) rotate(-70)">P=0.2478</text>
<text transform="translate(651,1466) rotate(-70)">P=0.0887</text>
<text transform="translate(688,1457) rotate(-70)">P=0.1861</text>
<text transform="translate(732,1466) rotate(-70)">P=0.547</text>
<text transform="translate(770,1414) rotate(-70)">P=0.7156</text>
</g>
<g font-size="16" font-style="italic">
<text transform="translate(502,1548) rotate(-50)">SSA1</text><text transform="translate(580,1548) rotate(-50)">SSA2</text>
<text transform="translate(650,1560) rotate(-50)">HSP90</text><text transform="translate(725,1566) rotate(-50)">HSP104</text>
</g>
<circle cx="820" cy="1294" r="4"/><text x="834" y="1300" font-size="16">WT (30°C)</text>
<rect x="816" y="1318" width="8" height="8"/><text x="834" y="1328" font-size="16"><tspan font-style="italic">Cnhsf3</tspan>Δ (30°C)</text>
<path d="M815 1356l5-9 5 9z"/><text x="834" y="1356" font-size="16">WT (40°C)</text>
<path d="M815 1375l5 9 5-9z"/><text x="834" y="1384" font-size="16"><tspan font-style="italic">Cnhsf3</tspan>Δ (40°C)</text>
</g>
</svg>
</body></html>
